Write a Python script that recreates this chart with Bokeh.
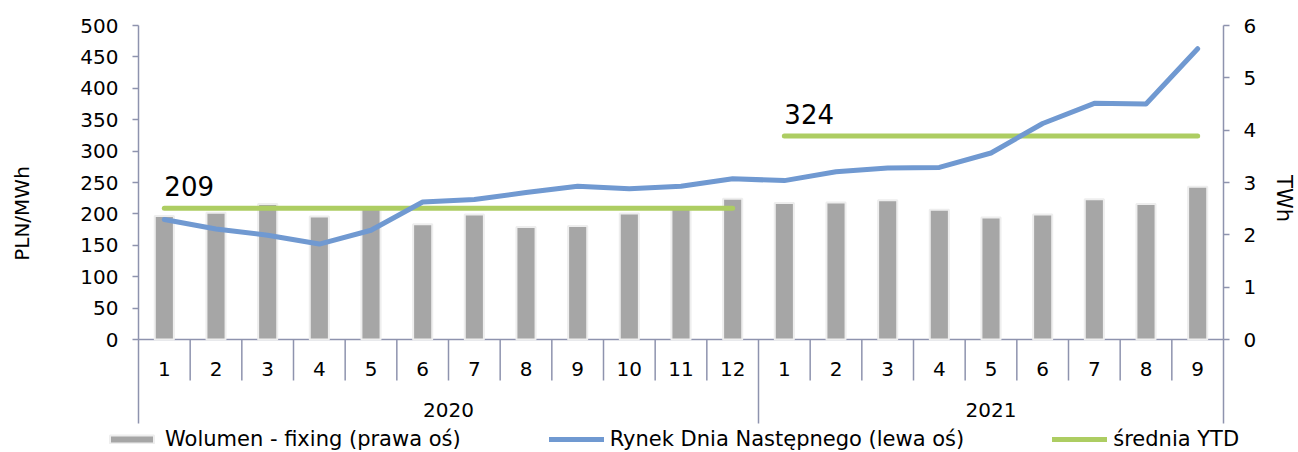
from math import pi
from bokeh.plotting import figure
from bokeh.models import (Range1d, LinearAxis, FixedTicker, Legend, LegendItem, Label)
from bokeh.core.properties import value
from bokeh.embed import file_html
from bokeh.resources import INLINE

# ---------------- data ----------------
years = ["2020", "2021"]
months_per_year = [12, 9]
months = ["1", "2", "3", "4", "5", "6", "7", "8", "9", "10", "11", "12",
          "1", "2", "3", "4", "5", "6", "7", "8", "9"]
volume_twh = [2.36, 2.42, 2.59, 2.35, 2.53, 2.20, 2.39, 2.15, 2.17, 2.41, 2.52, 2.69,
              2.61, 2.62, 2.66, 2.48, 2.33, 2.39, 2.68, 2.59, 2.92]
rdn_price = [191, 176, 166, 152, 174, 219, 223, 234, 244, 240, 244, 256,
             253, 267, 273, 274, 297, 344, 376, 375, 463]
avg_ytd = [209, 324]
left_ticks = [0, 50, 100, 150, 200, 250, 300, 350, 400, 450, 500]
right_ticks = [0, 1, 2, 3, 4, 5, 6]

# ---------------- style / geometry ----------------
FONT = "DejaVu Sans"
AX = "#8E93AE"
BAR = "#A6A6A6"
BLUE = "#7099D1"
GREEN = "#ADCD62"

W, H = 1298, 452
N = len(months)
AX_L, AX_R, TOP_Y, ZERO_Y, CAT_B = 138, 1223, 25, 339, 423
PX_PER_L = (ZERO_Y - TOP_Y) / 500.0
PX_PER_R = (ZERO_Y - TOP_Y) / 6.0
PX_PER_CAT = (AX_R - AX_L) / N


def dx(px):      # pixel x -> category units
    return (px - AX_L) / PX_PER_CAT


def dy(py):      # pixel y -> left axis units
    return (ZERO_Y - py) / PX_PER_L


p = figure(width=W, height=H, output_backend="svg", toolbar_location=None, title=None,
           x_range=Range1d(dx(0), dx(W)), y_range=Range1d(dy(H), dy(0)),
           min_border=0, x_axis_location=None, y_axis_location=None,
           outline_line_color=None, background_fill_color="white",
           border_fill_color="white")
p.grid.grid_line_color = None
p.extra_y_ranges = {"twh": Range1d((ZERO_Y - H) / PX_PER_R, ZERO_Y / PX_PER_R)}


def style_axis(ax):
    ax.axis_line_color = AX
    ax.axis_line_width = 1.5
    ax.major_tick_line_color = AX
    ax.major_tick_line_width = 1.5
    ax.major_tick_out = 6
    ax.major_tick_in = 0
    ax.minor_tick_line_color = None
    ax.major_label_standoff = 14
    ax.major_label_text_font = FONT
    ax.major_label_text_font_size = "20px"
    ax.major_label_text_color = "black"


ya = LinearAxis(ticker=FixedTicker(ticks=left_ticks), fixed_location=0,
                bounds=(left_ticks[0], left_ticks[-1]))
style_axis(ya)
p.add_layout(ya, "left")

ra = LinearAxis(y_range_name="twh", ticker=FixedTicker(ticks=right_ticks),
                fixed_location=N, bounds=(right_ticks[0], right_ticks[-1]))
style_axis(ra)
p.add_layout(ra, "right")

# category axis line and separators
year_bounds = [0]
for c in months_per_year:
    year_bounds.append(year_bounds[-1] + c)
p.segment(x0=[0], y0=[0], x1=[N], y1=[0], line_color=AX, line_width=1.5)
short_tick = dy(ZERO_Y + 41)
sep_x = list(range(N + 1))
sep_y1 = [(dy(CAT_B) if b in year_bounds else short_tick) for b in sep_x]
p.segment(x0=sep_x, y0=[0] * len(sep_x), x1=sep_x, y1=sep_y1,
          line_color=AX, line_width=1.5)

x_centers = [i + 0.5 for i in range(N)]

# bars
bars = p.vbar(x=x_centers, top=volume_twh, width=0.37, bottom=0, y_range_name="twh",
              fill_color=BAR, line_color="#EEEEEE", line_width=2)

# YTD average lines
avg_xs, avg_ys = [], []
for k, v in enumerate(avg_ytd):
    avg_xs.append([year_bounds[k] + 0.5, year_bounds[k + 1] - 0.5])
    avg_ys.append([v, v])
avg_line = p.multi_line(xs=avg_xs, ys=avg_ys, line_color=GREEN, line_width=5,
                        line_cap="round")

# price line
rdn = p.line(x=x_centers, y=rdn_price, line_color=BLUE, line_width=5,
             line_cap="round", line_join="round")

# value labels for averages
p.text(x=[xs[0] for xs in avg_xs], y=avg_ytd, text=[str(v) for v in avg_ytd],
       y_offset=-22, text_font=value(FONT), text_font_size="26px",
       text_align="left", text_baseline="middle", text_color="black")

# month labels
p.text(x=x_centers, y=[dy(368)] * N, text=months, text_font=value(FONT),
       text_font_size="20px", text_align="center", text_baseline="middle",
       text_color="black")
# year labels
yr_x = [(year_bounds[k] + year_bounds[k + 1]) / 2 for k in range(len(years))]
p.text(x=yr_x, y=[dy(409.5)] * len(years), text=years, text_font=value(FONT),
       text_font_size="20px", text_align="center", text_baseline="middle",
       text_color="black")

# axis titles
p.add_layout(Label(x=dx(21), y=dy(213), text="PLN/MWh", angle=pi / 2,
                   text_align="center", text_baseline="middle", text_font=FONT,
                   text_font_size="20px", text_color="black"))
p.add_layout(Label(x=dx(1283), y=dy(198), text="TWh", angle=-pi / 2,
                   text_align="center", text_baseline="middle", text_font=FONT,
                   text_font_size="21px", text_color="black"))

# legend
legend = Legend(items=[
    LegendItem(label="Wolumen - fixing (prawa oś)", renderers=[bars]),
    LegendItem(label="Rynek Dnia Następnego (lewa oś)", renderers=[rdn]),
    LegendItem(label="średnia YTD", renderers=[avg_line]),
], orientation="horizontal", location=(104, 1), glyph_width=55, glyph_height=10,
    label_standoff=6, spacing=88, padding=0, margin=0, border_line_color=None,
    background_fill_alpha=0, label_text_font=FONT, label_text_font_size="21px",
    label_height=20, label_text_color="black")
p.add_layout(legend)

open("out.html", "w").write(file_html(p, INLINE))
